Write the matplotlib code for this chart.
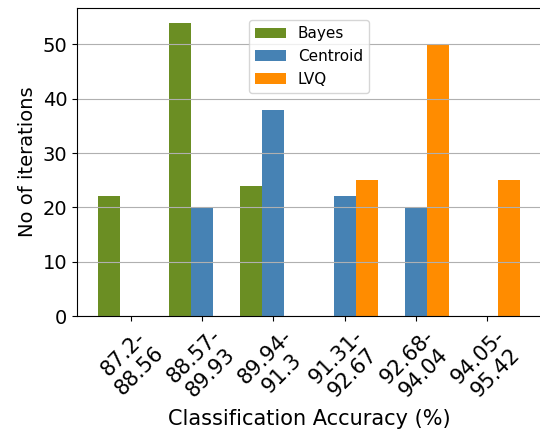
import numpy as np
import matplotlib.pyplot as plt

# Accuracy bins and how many iterations landed in each, per classifier
bins = ["87.2-\n88.56", "88.57-\n89.93", "89.94-\n91.3",
        "91.31-\n92.67", "92.68-\n94.04", "94.05-\n95.42"]
bayes = [22, 54, 24, 0, 0, 0]
centroid = [0, 20, 38, 22, 20, 0]
lvq = [0, 0, 0, 25, 50, 25]

x = np.arange(len(bins))
w = 0.31

fig = plt.figure(figsize=(5.4, 4.33), dpi=100)
ax = fig.add_axes([77 / 540, 1 - 316 / 433, 464 / 540, 308 / 433])

ax.bar(x - w, bayes, w, color='olivedrab', label='Bayes')
ax.bar(x, centroid, w, color='steelblue', label='Centroid')
ax.bar(x + w, lvq, w, color='darkorange', label='LVQ')

ax.set_xticks(x)
ax.set_xticklabels(bins, rotation=45, fontsize=15)
ax.tick_params(axis='y', labelsize=14)
ax.set_xlabel("Classification Accuracy (%)", fontsize=15)
ax.set_ylabel("No of iterations", fontsize=14)
ax.yaxis.grid(True)
ax.spines['right'].set_visible(False)

ax.legend(loc='upper center', bbox_to_anchor=(0.5, 0.985), fontsize=11)

fig.savefig("out.png", dpi=100)
